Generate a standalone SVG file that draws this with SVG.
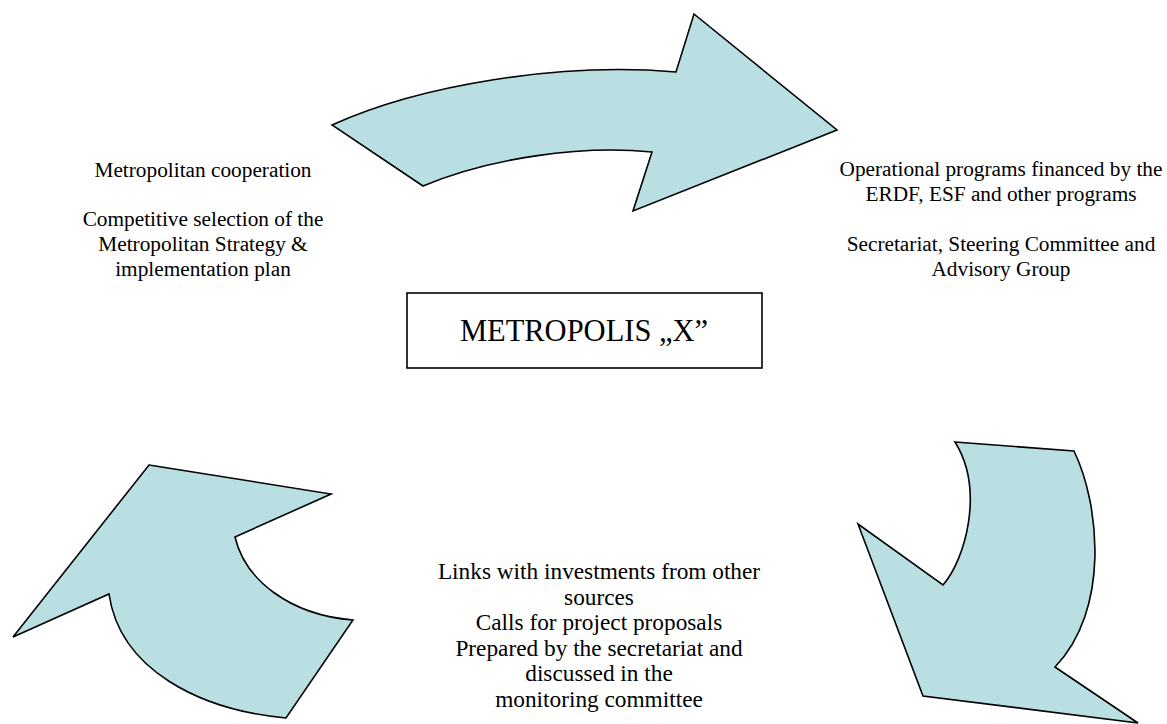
<svg xmlns="http://www.w3.org/2000/svg" width="1167" height="724" viewBox="0 0 1167 724">
<style>
.arrow{fill:#b9dfe3;stroke:#000;stroke-width:1.6;stroke-linejoin:miter}
.t{font-family:"Liberation Serif","Times New Roman",serif;font-size:21.3px;fill:#000;text-anchor:middle}
.b{font-size:23.3px}
.box{fill:#fff;stroke:#000;stroke-width:1.6}
</style>
<rect width="1167" height="724" fill="#fff"/>
<g id="connectors">
<path id="arrow-top" class="arrow" d="M332,125 C420,85 560,62 676,72 L694,14 L837,130 L633,211 L652,152 C580,145 490,158 423,186 Z"/>
<path id="arrow-right" class="arrow" d="M955,442 L1074,451 C1100,505 1110,610 1055,667 L1138,723 L923,696 L858,524 L943,585 C965,560 985,490 955,442 Z"/>
<path id="arrow-left" class="arrow" d="M149,465 L331,494 L235,537 C245,580 290,615 353,620 L286,718 C200,710 120,670 109,594 L13,637 Z"/>
</g>
<g id="node-left">
<text class="t" x="203" y="177">Metropolitan cooperation</text>
<text class="t" x="203" y="226">Competitive selection of the</text>
<text class="t" x="203" y="251">Metropolitan Strategy &amp;</text>
<text class="t" x="203" y="276">implementation plan</text>
</g>
<g id="node-right">
<text class="t" x="1001" y="176">Operational programs financed by the</text>
<text class="t" x="1001" y="201">ERDF, ESF and other programs</text>
<text class="t" x="1001" y="251">Secretariat, Steering Committee and</text>
<text class="t" x="1001" y="276">Advisory Group</text>
</g>
<g id="node-center">
<rect class="box" x="407" y="293" width="355" height="75"/>
<text class="t" x="584" y="341" style="font-size:30.5px">METROPOLIS „X”</text>
</g>
<g id="node-bottom">
<text class="t b" x="599" y="579">Links with investments from other</text>
<text class="t b" x="599" y="604.5">sources</text>
<text class="t b" x="599" y="630">Calls for project proposals</text>
<text class="t b" x="599" y="655.5">Prepared by the secretariat and</text>
<text class="t b" x="599" y="681">discussed in the</text>
<text class="t b" x="599" y="706.5">monitoring committee</text>
</g>
</svg>
